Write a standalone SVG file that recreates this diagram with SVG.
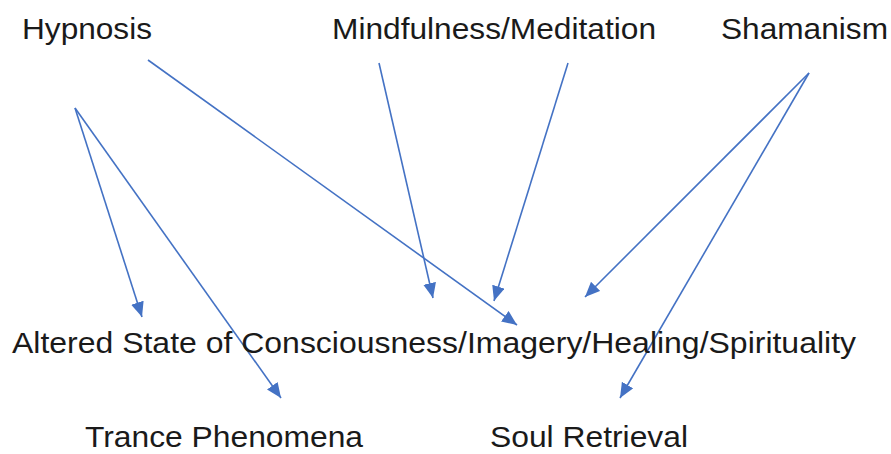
<svg xmlns="http://www.w3.org/2000/svg" width="891" height="454" viewBox="0 0 891 454">
<style>
  text { font-family: "Liberation Sans", Arial, sans-serif; font-size: 30px; fill: #1a1a1a; }
  .c { stroke: #4472C4; stroke-width: 1.6; fill: none; marker-end: url(#ah); }
</style>
<defs>
  <marker id="ah" markerUnits="userSpaceOnUse" markerWidth="16" markerHeight="14" refX="15" refY="6.5" orient="auto">
    <path d="M0,0 L15,6.5 L0,13 z" fill="#4472C4"/>
  </marker>
</defs>
<rect width="891" height="454" fill="#ffffff"/>
<g id="connectors">
  <line class="c" x1="148" y1="60" x2="517" y2="325"/>
  <line class="c" x1="75" y1="108" x2="142" y2="317"/>
  <line class="c" x1="75" y1="108" x2="281" y2="398"/>
  <line class="c" x1="379" y1="63" x2="433" y2="298"/>
  <line class="c" x1="568" y1="63" x2="494" y2="301"/>
  <line class="c" x1="809" y1="73" x2="585" y2="297"/>
  <line class="c" x1="809" y1="73" x2="620" y2="398"/>
</g>
<g id="hypnosis"><text x="22" y="39" textLength="130" lengthAdjust="spacingAndGlyphs">Hypnosis</text></g>
<g id="mindfulness"><text x="332" y="39" textLength="324" lengthAdjust="spacingAndGlyphs">Mindfulness/Meditation</text></g>
<g id="shamanism"><text x="721" y="39" textLength="167" lengthAdjust="spacingAndGlyphs">Shamanism</text></g>
<g id="altered"><text x="12" y="353" textLength="844" lengthAdjust="spacingAndGlyphs">Altered State of Consciousness/Imagery/Healing/Spirituality</text></g>
<g id="trance"><text x="85" y="447" textLength="278" lengthAdjust="spacingAndGlyphs">Trance Phenomena</text></g>
<g id="soul"><text x="490" y="447" textLength="198" lengthAdjust="spacingAndGlyphs">Soul Retrieval</text></g>
</svg>
